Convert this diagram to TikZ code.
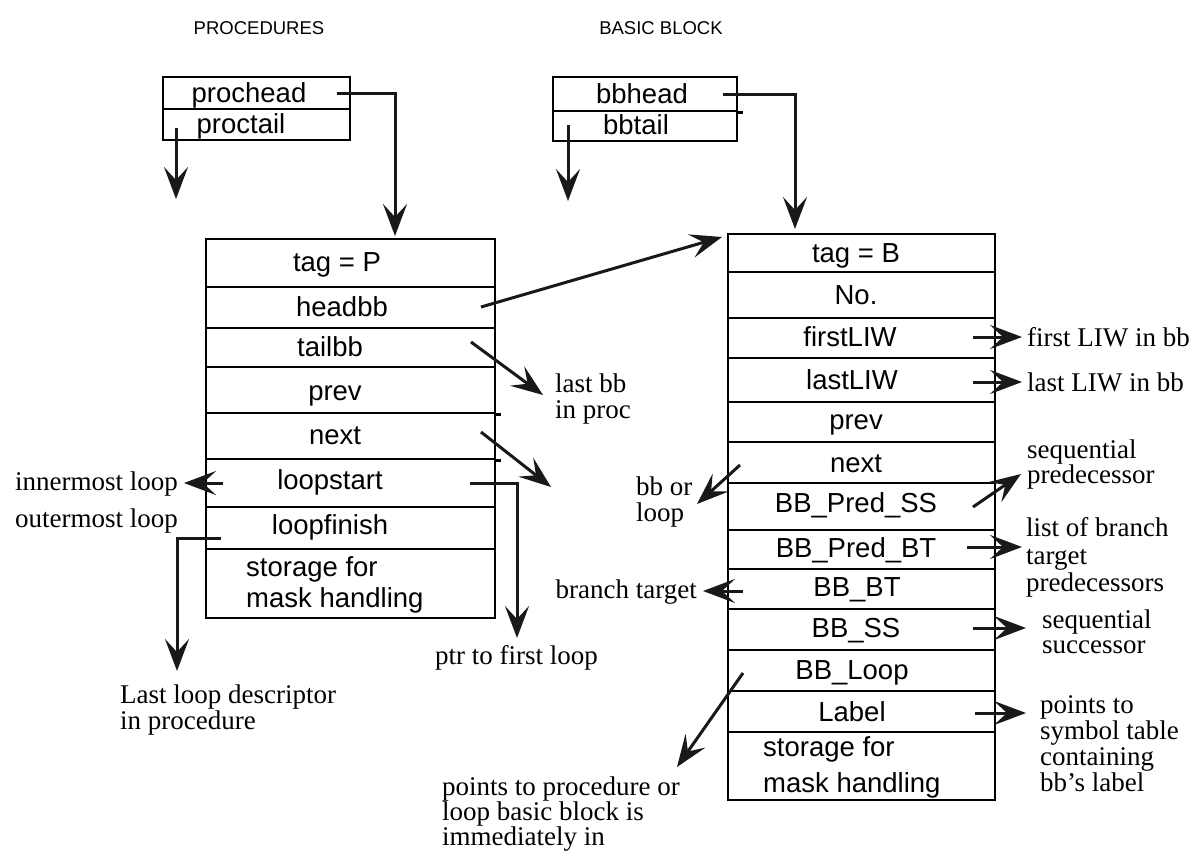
\documentclass[tikz,border=0pt]{standalone}
\usepackage{fontspec}
\setmainfont{Liberation Serif}
\setsansfont{Liberation Sans}
\usetikzlibrary{arrows.meta}
\begin{document}
\begin{tikzpicture}[x=1pt,y=-1pt,
  rowbox/.style={draw, line width=2.6pt, inner sep=0pt, minimum width=#1},
  boxtxt/.style={font=\sffamily\fontsize{27.5}{30}\selectfont, inner sep=0pt, text height=19pt, text depth=5pt},
  note/.style={font=\rmfamily\fontsize{27}{27}\selectfont, inner sep=0pt},
  ttl/.style={font=\sffamily\fontsize{18.5}{20}\selectfont, inner sep=0pt},
  arr/.style={line width=3pt, draw=black!90, -{Stealth[length=32pt,width=24pt,inset=13pt]}},
  overhang/.style={line width=2.6pt}]
\fill[white] (0,0) rectangle (1191,852);
\useasboundingbox (0,0) rectangle (1191,852);

% titles
\node[ttl] (t-proc) at (259,28) {PROCEDURES};
\node[ttl] (t-bb) at (661,28) {BASIC BLOCK};

% small header boxes
\node[rowbox=187pt, minimum height=32pt] (ph) at (256.5,93) {};
\node[rowbox=187pt, minimum height=31pt] (pt) at (256.5,124.5) {};
\node[boxtxt] (ph-t) at (249,95) {prochead};
\node[boxtxt] (pt-t) at (241,126) {proctail};

\node[rowbox=184pt, minimum height=34pt] (bh) at (645,94) {};
\node[rowbox=184pt, minimum height=30pt] (bt) at (645,126) {};
\draw[overhang] (bh.south east) -- ++(5,0);
\node[boxtxt] (bh-t) at (642,96) {bbhead};
\node[boxtxt] (bt-t) at (636,127) {bbtail};

% procedure descriptor
\node[rowbox=289pt, minimum height=48pt] (p1) at (350.5,263) {};
\node[rowbox=289pt, minimum height=41pt] (p2) at (350.5,307.5) {};
\node[rowbox=289pt, minimum height=39pt] (p3) at (350.5,347.5) {};
\node[rowbox=289pt, minimum height=46pt] (p4) at (350.5,390) {};
\node[rowbox=289pt, minimum height=46pt] (p5) at (350.5,436) {};
\node[rowbox=289pt, minimum height=48pt] (p6) at (350.5,483) {};
\node[rowbox=289pt, minimum height=42pt] (p7) at (350.5,528) {};
\node[rowbox=289pt, minimum height=69pt] (p8) at (350.5,583.5) {};
\draw[overhang] (p4.south east) -- ++(5,0);
\draw[overhang] (p5.south east) -- ++(5,0);

\node[boxtxt] (p1-t) at (337,264) {tag = P};
\node[boxtxt] (p2-t) at (342,309) {headbb};
\node[boxtxt] (p3-t) at (330,349) {tailbb};
\node[boxtxt] (p4-t) at (335,393) {prev};
\node[boxtxt] (p5-t) at (335,437) {next};
\node[boxtxt] (p6-t) at (330,482) {loopstart};
\node[boxtxt] (p7-t) at (330,527) {loopfinish};
\node[boxtxt, anchor=west] (p8-a) at (246,569) {storage for};
\node[boxtxt, anchor=west] (p8-b) at (246,600) {mask handling};

% basic block descriptor
\node[rowbox=267pt, minimum height=38pt] (b1) at (861.5,253) {};
\node[rowbox=267pt, minimum height=46pt] (b2) at (861.5,295) {};
\node[rowbox=267pt, minimum height=40pt] (b3) at (861.5,338) {};
\node[rowbox=267pt, minimum height=44pt] (b4) at (861.5,380) {};
\node[rowbox=267pt, minimum height=40pt] (b5) at (861.5,422) {};
\node[rowbox=267pt, minimum height=41pt] (b6) at (861.5,462.5) {};
\node[rowbox=267pt, minimum height=47pt] (b7) at (861.5,506.5) {};
\node[rowbox=267pt, minimum height=39pt] (b8) at (861.5,549.5) {};
\node[rowbox=267pt, minimum height=40pt] (b9) at (861.5,589) {};
\node[rowbox=267pt, minimum height=41pt] (b10) at (861.5,629.5) {};
\node[rowbox=267pt, minimum height=41pt] (b11) at (861.5,670.5) {};
\node[rowbox=267pt, minimum height=41pt] (b12) at (861.5,711.5) {};
\node[rowbox=267pt, minimum height=68pt] (b13) at (861.5,766) {};

\node[boxtxt] (b1-t) at (856,255) {tag = B};
\node[boxtxt] (b2-t) at (856,297) {No.};
\node[boxtxt] (b3-t) at (850,339) {firstLIW};
\node[boxtxt] (b4-t) at (852,382) {lastLIW};
\node[boxtxt] (b5-t) at (856,422) {prev};
\node[boxtxt] (b6-t) at (856,465) {next};
\node[boxtxt] (b7-t) at (856,505) {BB\_Pred\_SS};
\node[boxtxt] (b8-t) at (856,550) {BB\_Pred\_BT};
\node[boxtxt] (b9-t) at (857,589) {BB\_BT};
\node[boxtxt] (b10-t) at (856,630) {BB\_SS};
\node[boxtxt] (b11-t) at (852,672) {BB\_Loop};
\node[boxtxt] (b12-t) at (852,714) {Label};
\node[boxtxt, anchor=west] (b13-a) at (763,749) {storage for};
\node[boxtxt, anchor=west] (b13-b) at (763,785) {mask handling};

% annotations
\node[note, anchor=base west] (n-lastbb1) at (555,392) {last bb};
\node[note, anchor=base west] (n-lastbb2) at (555,418) {in proc};
\node[note, anchor=base east] (n-inner) at (178,490) {innermost loop};
\node[note, anchor=base east] (n-outer) at (178,527) {outermost loop};
\node[note, anchor=base west] (n-lld1) at (120,703) {Last loop descriptor};
\node[note, anchor=base west] (n-lld2) at (120,729) {in procedure};
\node[note, anchor=base west] (n-ptr) at (435,664) {ptr to first loop};
\node[note, anchor=base west] (n-bbor1) at (636,495) {bb or};
\node[note, anchor=base west] (n-bbor2) at (636,521) {loop};
\node[note, anchor=base east] (n-bt) at (697,598) {branch target};
\node[note, anchor=base west] (n-pp1) at (442,795) {points to procedure or};
\node[note, anchor=base west] (n-pp2) at (442,820) {loop basic block is};
\node[note, anchor=base west] (n-pp3) at (442,845) {immediately in};
\node[note, anchor=base west] (n-fl) at (1027,346) {first LIW in bb};
\node[note, anchor=base west] (n-ll) at (1027,391) {last LIW in bb};
\node[note, anchor=base west] (n-sp1) at (1027,458) {sequential};
\node[note, anchor=base west] (n-sp2) at (1027,483) {predecessor};
\node[note, anchor=base west] (n-lb1) at (1026,536) {list of branch};
\node[note, anchor=base west] (n-lb2) at (1026,564) {target};
\node[note, anchor=base west] (n-lb3) at (1026,591) {predecessors};
\node[note, anchor=base west] (n-ss1) at (1042,628) {sequential};
\node[note, anchor=base west] (n-ss2) at (1042,653) {successor};
\node[note, anchor=base west] (n-st1) at (1040,713) {points to};
\node[note, anchor=base west] (n-st2) at (1040,739) {symbol table};
\node[note, anchor=base west] (n-st3) at (1040,765) {containing};
\node[note, anchor=base west] (n-st4) at (1040,791) {bb's label};

% connector end points
\coordinate (c-ph) at (337,93);   \coordinate (c-ph2) at (395,93);  \coordinate (c-pht) at (395,236);
\coordinate (c-pt) at (176,128);  \coordinate (c-ptt) at (176,199);
\coordinate (c-bh) at (723,94);   \coordinate (c-bh2) at (795,94);  \coordinate (c-bht) at (795,229);
\coordinate (c-bt) at (568,125);  \coordinate (c-btt) at (568,201);
\coordinate (c-hb) at (481,307);  \coordinate (c-hbt) at (722,237);
\coordinate (c-tb) at (471,342);  \coordinate (c-tbt) at (543,395);
\coordinate (c-nx) at (481,432);  \coordinate (c-nxt) at (551,487);
\coordinate (c-lsl) at (223,483); \coordinate (c-lslt) at (184,483);
\coordinate (c-lsr) at (470,483); \coordinate (c-lsr2) at (517,483); \coordinate (c-lsrt) at (517,638);
\coordinate (c-lf) at (221,538);  \coordinate (c-lf2) at (177,538); \coordinate (c-lft) at (177,671);
\coordinate (c-fl) at (973,337);  \coordinate (c-flt) at (1022,337);
\coordinate (c-ll) at (973,382);  \coordinate (c-llt) at (1022,382);
\coordinate (c-bnx) at (740,465); \coordinate (c-bnxt) at (697,504);
\coordinate (c-ps) at (973,507);  \coordinate (c-pst) at (1021,474);
\coordinate (c-pb) at (967,547);  \coordinate (c-pbt) at (1022,547);
\coordinate (c-bbt) at (743,591); \coordinate (c-bbtt) at (703,591);
\coordinate (c-ss) at (973,628);  \coordinate (c-sst) at (1026,628);
\coordinate (c-lp) at (743,673);  \coordinate (c-lpt) at (677,767);
\coordinate (c-lb) at (975,713);  \coordinate (c-lbt) at (1026,713);

% connectors
\draw[arr] (c-ph) -- (c-ph2) -- (c-pht);
\draw[arr] (c-pt) -- (c-ptt);
\draw[arr] (c-bh) -- (c-bh2) -- (c-bht);
\draw[arr] (c-bt) -- (c-btt);
\draw[arr] (c-hb) -- (c-hbt);
\draw[arr] (c-tb) -- (c-tbt);
\draw[arr] (c-nx) -- (c-nxt);
\draw[arr] (c-lsl) -- (c-lslt);
\draw[arr] (c-lsr) -- (c-lsr2) -- (c-lsrt);
\draw[arr] (c-lf) -- (c-lf2) -- (c-lft);
\draw[arr] (c-fl) -- (c-flt);
\draw[arr] (c-ll) -- (c-llt);
\draw[arr] (c-bnx) -- (c-bnxt);
\draw[arr] (c-ps) -- (c-pst);
\draw[arr] (c-pb) -- (c-pbt);
\draw[arr] (c-bbt) -- (c-bbtt);
\draw[arr] (c-ss) -- (c-sst);
\draw[arr] (c-lp) -- (c-lpt);
\draw[arr] (c-lb) -- (c-lbt);
\end{tikzpicture}
\end{document}
